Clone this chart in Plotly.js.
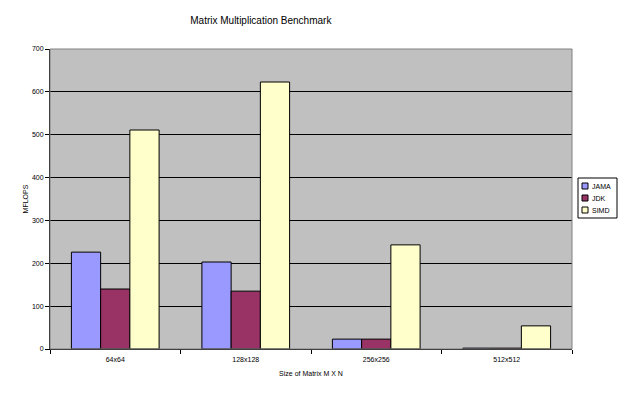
<!DOCTYPE html>
<html><head><meta charset="utf-8">
<script src="https://cdn.plot.ly/plotly-3.0.1.min.js"></script>
<style>body{margin:0;background:#fff}#c{width:624px;height:393px}</style>
</head><body><div id="c"></div>
<script>
const categories = ["64x64", "128x128", "256x256", "512x512"];
const jama = [226, 203, 23, 2];
const jdk = [140, 135, 23, 2];
const simd = [511, 623, 243, 54];
const seriesNames = ["JAMA", "JDK", "SIMD"];
const colors = ["#9999FF", "#993366", "#FFFFCC"];
const yTicks = [0, 100, 200, 300, 400, 500, 600, 700];

const font = {family: "Liberation Sans, Arial, sans-serif", size: 7, color: "#000"};
const traces = [jama, jdk, simd].map((v, i) => ({
  type: "bar", name: seriesNames[i], x: categories, y: v,
  marker: {color: colors[i], line: {color: "#000", width: 1}}
}));

// plot area geometry (pixels) for converting legend box placement to paper coords
const M = {l: 50, r: 52, t: 49, b: 44};
const PW = 624 - M.l - M.r, PH = 393 - M.t - M.b;
const px = x => (x - M.l) / PW;
const py = y => (393 - M.b - y) / PH;

const shapes = [{type: "rect", xref: "paper", yref: "paper", x0: 0, x1: 1, y0: 0, y1: 1,
  line: {color: "#808080", width: 1}, layer: "above"},
  {type: "rect", xref: "paper", yref: "paper", x0: px(578), x1: px(617), y0: py(218), y1: py(178),
  line: {color: "#000", width: 1}, fillcolor: "#fff", layer: "above"}];
const annotations = [];
seriesNames.forEach((n, i) => {
  const cy = 186 + i * 12;
  shapes.push({type: "rect", xref: "paper", yref: "paper", x0: px(582), x1: px(588), y0: py(cy + 3), y1: py(cy - 3),
    line: {color: "#000", width: 1}, fillcolor: colors[i], layer: "above"});
  annotations.push({xref: "paper", yref: "paper", x: px(590), y: py(cy), xanchor: "left", yanchor: "middle",
    text: n, showarrow: false, font: {family: font.family, size: 7, color: "#000"}});
});

Plotly.newPlot("c", traces, {
  width: 624, height: 393,
  margin: Object.assign({autoexpand: false}, M),
  paper_bgcolor: "#fff", plot_bgcolor: "#c0c0c0",
  font: font,
  title: {text: "Matrix Multiplication Benchmark", font: {family: font.family, size: 10, color: "#000"},
    xref: "container", x: 0.418, xanchor: "center", yref: "container", y: 0.948, yanchor: "middle"},
  barmode: "group", bargap: 0.328, bargroupgap: 0,
  showlegend: false,
  xaxis: {type: "category", tickson: "boundaries", ticks: "outside", ticklen: 4, tickcolor: "#000",
    showline: true, linecolor: "#000", linewidth: 1, showgrid: false, ticklabelstandoff: 4,
    title: {text: "Size of Matrix M X N", font: {family: font.family, size: 7}, standoff: 8},
    tickfont: {family: font.family, size: 7, color: "#000"}},
  yaxis: {range: [0, 700], tickvals: yTicks, ticktext: yTicks.map(String), ticks: "outside", ticklen: 4, tickcolor: "#000",
    showline: true, linecolor: "#000", linewidth: 1, showgrid: true, gridcolor: "#000", gridwidth: 1,
    zeroline: false,
    title: {text: "MFLOPS", font: {family: font.family, size: 7}, standoff: 2},
    tickfont: {family: font.family, size: 7, color: "#000"}},
  shapes: shapes,
  annotations: annotations
}, {displayModeBar: false, staticPlot: true});
</script></body></html>
